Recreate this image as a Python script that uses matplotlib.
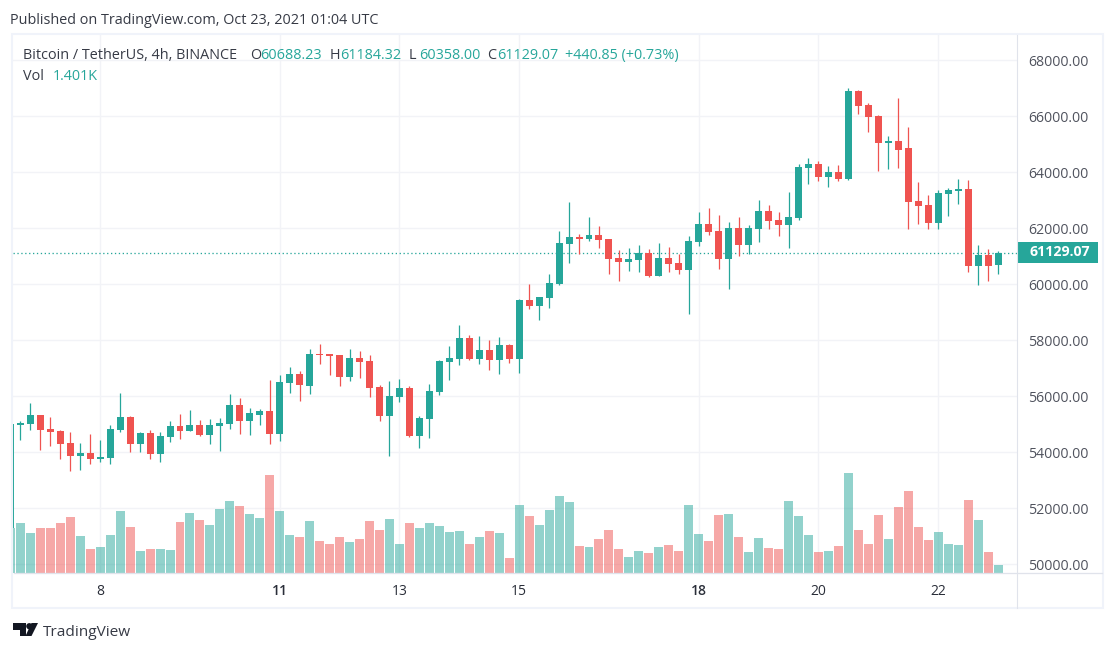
import matplotlib
matplotlib.use("Agg")
import matplotlib.pyplot as plt
from matplotlib.lines import Line2D
from matplotlib.patches import Rectangle, Polygon, Circle
from matplotlib.transforms import Affine2D

# ---------- data ----------
opens = [51300,54978,55014,55335,54835,54764,54335,53871,53978,53764,
         53800,54800,55264,54300,54692,53942,54550,54942,54764,54978,
         54621,54942,55014,55693,55121,55335,55478,54657,56478,56800,
         56371,57514,57514,57478,56693,57371,57262,56333,55297,55976,
         56297,54586,55190,56155,57226,57333,58083,57333,57655,57297,
         57833,57333,59440,59226,59512,60012,61440,61690,61619,61762,
         61619,60940,60797,60869,61119,60298,60940,60762,60512,61512,
         62155,61905,60905,62012,61405,61976,62619,62298,62119,62369,
         64155,64298,63834,64012,63762,66905,66405,66012,65048,65119,
         64869,62976,62834,62191,63227,63334,63405,60655,61048,60688.23]
highs = [55014,55121,55764,55335,55264,54800,54728,54335,54657,54443,
         54978,56121,55300,54728,54800,54728,55121,55371,55514,55157,
         55193,55228,56085,55942,55585,55550,56585,56764,57050,56907,
         57693,57871,57514,57478,57693,57621,57476,56405,56547,56619,
         56369,55297,56440,57297,57797,58547,58190,58155,58012,58119,
         57869,59476,60012,59548,60369,61905,62940,61798,62405,62083,
         61619,61226,61297,61405,61262,61476,61333,61083,61726,62584,
         62726,62476,62227,62405,62119,63012,62834,62584,63298,64298,
         64512,64405,64227,64262,67012,66941,66477,66048,65298,66655,
         65619,63655,63191,63369,63441,63762,63727,61405,61262,61184.32]
lows = [51300,54443,54800,54085,54228,53764,53335,53371,53585,53657,
        53585,54728,54014,54014,53764,53657,54371,54478,54764,54585,
        54300,54050,54835,54657,54621,54978,54300,54407,56121,55835,
        56085,57157,56764,56371,56550,56657,55976,55119,53871,55797,
        54550,54157,54514,56047,56583,57119,57297,57155,56940,56797,
        57190,56833,59119,58726,59155,59976,60762,61083,61548,61297,
        60369,60119,60476,60440,60262,60298,60440,60369,58940,61369,
        61762,60548,59834,61012,61084,61512,61976,61726,61298,62298,
        63584,63691,63476,63691,63727,66084,65441,64048,64119,64155,
        61976,62155,61976,61976,62441,62869,60441,59977,60119,60358.00]
closes = [55014,55050,55335,54800,54728,54300,53871,53978,53764,53835,
          54835,55264,54300,54692,53942,54585,54942,54764,54978,54621,
          54978,55050,55693,55121,55407,55478,54657,56514,56800,56407,
          57514,57478,57443,56693,57371,57228,56297,55297,56012,56297,
          54586,55226,56190,57262,57369,58083,57333,57655,57297,57833,
          57333,59440,59226,59548,60047,61476,61690,61619,61762,61583,
          60905,60797,60905,61119,60298,60940,60726,60512,61548,62155,
          61869,60905,62012,61405,62012,62619,62262,62119,62405,64191,
          64298,63834,64012,63762,66905,66369,65977,65048,65119,64798,
          62941,62798,62191,63262,63369,63405,60655,61048,60655,61129.07]
volumes = [7875,8750,7000,7875,7875,8750,9800,6475,4200,4550,
           6650,10850,8050,3850,4200,4200,4025,8925,10500,9275,
           8400,11200,12600,11725,10325,9625,17150,10850,6650,6300,
           9100,5600,5075,6300,5425,5950,9100,7525,9450,5075,
           8750,7875,8750,8225,7175,7350,5075,6300,7350,7000,
           2625,11900,9975,8400,11025,13475,12425,4725,4550,5950,
           7525,4200,2800,3850,3500,4550,4900,3850,11900,6825,
           5600,10150,10325,6300,3675,6125,4375,4200,12600,9975,
           6650,3675,3850,4725,17500,7525,5075,10150,5950,11550,
           14350,8050,5775,7175,5075,4900,12775,9275,3675,1401]
price_ticks = [50000,52000,54000,56000,58000,60000,62000,64000,66000,68000]
day_ticks = [9,27,39,51,69,81,93]
day_labels = ["8","11","13","15","18","20","22"]
bold_days = ["11","18"]
last_price = 61129.07

# ---------- style ----------
TEAL, RED = "#26a69a", "#ef5350"
GRID, FRAME, SEP = "#f2f3f7", "#f0f3fa", "#e0e3eb"
INK, AXTXT = "#363a45", "#50535e"
FONT = ["Open Sans", "DejaVu Sans"]
plt.rcParams["font.family"] = FONT
W, H = 1116, 652
fig = plt.figure(figsize=(W/100, H/100), dpi=100, facecolor="white")
px = Affine2D().scale(1/W, -1/H).translate(0, 1) + fig.transFigure
PW = 0.72  # one pixel in points

L, R, T, B = 13.0, 1016.5, 35.0, 573.3
ax = fig.add_axes([L/W, 1-B/H, (R-L)/W, (B-T)/H])
x0, dx = 10.4, 9.976
ax.set_xlim((L-x0)/dx, (R-x0)/dx)
ax.set_ylim(50000+(564.4-B)*1000/28, 50000+(564.4-T)*1000/28)

idx = list(range(len(opens)))
col = [TEAL if c >= o else RED for o, c in zip(opens, closes)]
ax.grid(True, color=GRID, lw=PW*1.4)
ax.set_axisbelow(True)
wicks = ax.vlines(idx, lows, highs, colors=col, lw=PW*1.25, zorder=3)
ax.bar(idx, [abs(c-o) for o, c in zip(opens, closes)],
       bottom=[min(o, c) for o, c in zip(opens, closes)],
       width=0.7, color=col, linewidth=0, zorder=4)
ax.axhline(last_price, color=TEAL, lw=PW*1.3, ls=(0, (1, 2)), zorder=2)

# volume pane shares the x axis and sits at the bottom
axv = ax.twinx()
axv.set_ylim(0, (B-T)*175)
axv.bar(idx, volumes, width=0.9, linewidth=0, alpha=0.5, color=col)
axv.set_yticks([])
for s in axv.spines.values():
    s.set_visible(False)

ax.set_yticks(price_ticks)
ax.set_yticklabels([f"{p:.2f}" for p in price_ticks], color=AXTXT, fontsize=10.2)
ax.yaxis.tick_right()
ax.set_xticks(day_ticks)
ax.set_xticklabels(day_labels, color="#2a2e39", fontsize=10)
for t in ax.get_xticklabels():
    if t.get_text() in bold_days:
        t.set_fontweight("semibold")
ax.tick_params(axis="y", length=0, pad=8.6, labelright=True, labelleft=False)
ax.tick_params(axis="x", length=0, pad=8)
for s in ax.spines.values():
    s.set_visible(False)

# frame
fig.add_artist(Rectangle((12.2, 34), 1090.8, 574, transform=px, fill=False, ec=FRAME, lw=1.5))
fig.add_artist(Line2D([R, R], [T, 608], transform=px, color=SEP, lw=PW*1.1))
fig.add_artist(Line2D([14, 1102], [B, B], transform=px, color=SEP, lw=PW*1.3))

# last price tag
fig.add_artist(Rectangle((1016.5, 241.7), 81.5, 21, transform=px, fc=TEAL, ec="none"))
fig.text(1029, 252.5, f"{last_price:.2f}", transform=px, color="white", fontsize=10.2,
         fontweight="bold", va="center", ha="left")

# header + legend texts
def txt(x, y, s, c=INK, fs=10.4):
    fig.text(x, y, s, transform=px, color=c, fontsize=fs, va="center", ha="left")

txt(10, 21, "Published on TradingView.com, Oct 23, 2021 01:04 UTC", INK, 10.4)
txt(23, 55.5, "Bitcoin / TetherUS, 4h, BINANCE")
for x, s in [(250, "O"), (329.5, "H"), (409, "L"), (487, "C")]:
    txt(x, 55.5, s)
for x, s in [(260, "60688.23"), (340, "61184.32"), (419, "60358.00"), (497, "61129.07"),
             (565, "+440.85 (+0.73%)")]:
    txt(x, 55.5, s, TEAL)
txt(23, 76, "Vol")
txt(53, 76, "1.401K", TEAL)

# brand mark
LOGO = "#131722"
fig.add_artist(Polygon([(13, 623), (26, 623), (26, 636), (19.5, 636), (19.5, 629.5), (13, 629.5)],
                       closed=True, transform=px, fc=LOGO, ec="none"))
fig.add_artist(Circle((29.3, 626.2), 3.1, transform=px, fc=LOGO, ec="none"))
fig.add_artist(Polygon([(31.5, 636), (25.5, 636), (31.5, 623), (38, 623)],
                       closed=True, transform=px, fc=LOGO, ec="none"))
txt(43, 632.5, "TradingView", "#363a45", 11.1)

fig.savefig("out.png", dpi=100, facecolor="white")
